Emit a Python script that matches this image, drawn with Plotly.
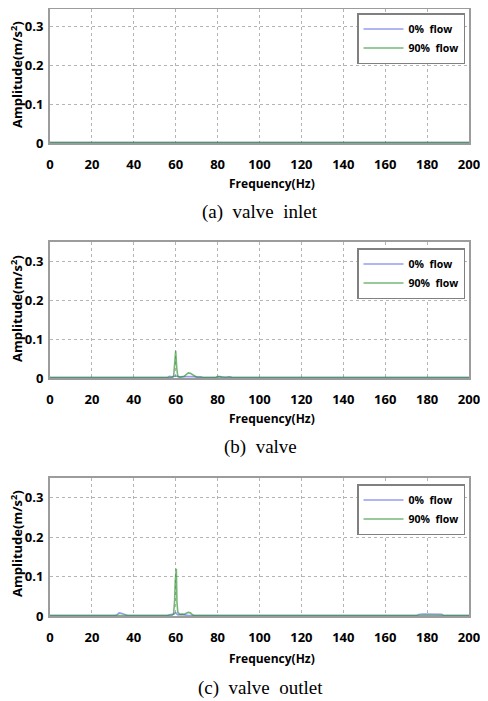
import plotly.graph_objects as go

# ---------------- data ----------------
x_ticks = [0, 20, 40, 60, 80, 100, 120, 140, 160, 180, 200]
y_ticks = [0, 0.1, 0.2, 0.3]
y_tick_labels = ["0", "0.1", "0.2", "0.3"]
series_names = ["0%  flow", "90%  flow"]
captions = ["(a)  valve  inlet", "(b)  valve", "(c)  valve  outlet"]

# (a) valve inlet
freq_a_0 = [0, 58, 59, 60, 61, 62, 200]
amp_a_0 = [0.001, 0.001, 0.001, 0.002, 0.001, 0.001, 0.001]
freq_a_90 = [0, 59, 60, 61, 200]
amp_a_90 = [0.001, 0.001, 0.002, 0.001, 0.001]

# (b) valve
freq_b_0 = [0, 56, 57, 58, 60, 62, 64, 66, 68, 70, 72, 73, 78, 80, 81, 82, 84, 85, 86, 87, 200]
amp_b_0 = [0.001, 0.001, 0.004, 0.003, 0.005, 0.003, 0.004, 0.004, 0.003, 0.004, 0.003, 0.001,
           0.001, 0.002, 0.004, 0.003, 0.002, 0.003, 0.003, 0.001, 0.001]
freq_b_90 = [0, 58, 59, 59.5, 60, 60.5, 61, 62, 64, 65, 66, 67, 68, 69, 70, 79, 80, 81, 82, 200]
amp_b_90 = [0.001, 0.001, 0.004, 0.03, 0.07, 0.025, 0.004, 0.002, 0.004, 0.009, 0.013, 0.012,
            0.008, 0.004, 0.002, 0.001, 0.004, 0.003, 0.001, 0.001]

# (c) valve outlet
freq_c_0 = [0, 31, 32, 33, 34, 35, 36, 37, 56, 57, 59, 60, 61, 63, 65, 66, 175, 176, 178, 180,
            183, 185, 187, 188, 200]
amp_c_0 = [0.001, 0.001, 0.003, 0.008, 0.007, 0.004, 0.003, 0.001, 0.001, 0.003, 0.005, 0.008,
           0.003, 0.004, 0.003, 0.001, 0.001, 0.004, 0.005, 0.005, 0.005, 0.005, 0.004, 0.001,
           0.001]
freq_c_90 = [0, 58, 59, 59.5, 59.8, 60, 60.3, 60.6, 61, 62, 64, 65, 66, 67, 68, 69, 200]
amp_c_90 = [0.001, 0.001, 0.005, 0.04, 0.09, 0.11, 0.12, 0.035, 0.01, 0.004, 0.004, 0.007,
            0.009, 0.008, 0.003, 0.001, 0.001]

panels = [
    (freq_a_0, amp_a_0, freq_a_90, amp_a_90),
    (freq_b_0, amp_b_0, freq_b_90, amp_b_90),
    (freq_c_0, amp_c_0, freq_c_90, amp_c_90),
]

# ---------------- layout geometry (page pixels; page body has 8px margin) ----------------
OFF = 8
W, H = 488 - OFF, 701 - OFF
left_px, right_px = 50, 469
panel_px = [(9, 143), (242, 378), (478, 616)]  # (top, bottom)
y_max = [0.346, 0.35, 0.35]
xlabel_px = [183, 418, 658]
caption_px = [212, 447, 688]
ytitle_px = [75, 309, 544]
legend_top_px = [13, 248, 484]


def px(v):
    return min(max((v - OFF) / W, 0), 1)


def py(v):
    return min(max(1 - (v - OFF) / H, 0), 1)


blue = "rgba(85,95,230,0.62)"
green = "rgba(45,145,45,0.65)"

fig = go.Figure()
legend_names = ["legend", "legend2", "legend3"]

for i, (f0, a0, f90, a90) in enumerate(panels):
    sfx = "" if i == 0 else str(i + 1)
    fig.add_trace(go.Scatter(x=f0, y=a0, mode="lines", name=series_names[0],
                             line=dict(color=blue, width=1.6),
                             xaxis="x" + sfx, yaxis="y" + sfx, legend=legend_names[i]))
    fig.add_trace(go.Scatter(x=f90, y=a90, mode="lines", name=series_names[1],
                             line=dict(color=green, width=1.6),
                             xaxis="x" + sfx, yaxis="y" + sfx, legend=legend_names[i]))

layout = dict(
    width=W, height=H,
    margin=dict(l=0, r=0, t=0, b=0, autoexpand=False),
    paper_bgcolor="white", plot_bgcolor="white",
    showlegend=True,
    font=dict(family="Open Sans", color="black"),
)

tickfont = dict(family="Open Sans", size=13, color="black", weight=700)
annotations = []
for i, (top, bot) in enumerate(panel_px):
    sfx = "" if i == 0 else str(i + 1)
    layout["xaxis" + sfx] = dict(
        domain=[px(left_px), px(right_px)], range=[0, 200], anchor="y" + sfx,
        tickvals=x_ticks, ticktext=[str(v) for v in x_ticks], tickfont=tickfont,
        showgrid=True, gridcolor="#b4b4b4", griddash="dot", gridwidth=1,
        showline=True, linecolor="#9c9c9c", linewidth=2, mirror=True,
        ticks="", ticklabelstandoff=8, zeroline=False, fixedrange=True, automargin=False,
    )
    layout["yaxis" + sfx] = dict(
        domain=[py(bot), py(top)], range=[0, y_max[i]], anchor="x" + sfx,
        tickvals=y_ticks, ticktext=y_tick_labels, tickfont=tickfont,
        showgrid=True, gridcolor="#b4b4b4", griddash="dot", gridwidth=1,
        showline=True, linecolor="#9c9c9c", linewidth=2, mirror=True,
        ticks="", ticklabelstandoff=2, zeroline=False, fixedrange=True, automargin=False,
    )
    layout[legend_names[i]] = dict(
        x=px(357), y=py(legend_top_px[i]), xanchor="left", yanchor="top",
        bgcolor="white", bordercolor="#808080", borderwidth=1.5,
        font=dict(family="Open Sans", size=10.5, color="black", weight=700),
        itemwidth=40, tracegroupgap=0,
    )
    annotations.append(dict(
        text="Frequency(Hz)", x=px(272), y=py(xlabel_px[i]),
        xref="paper", yref="paper", showarrow=False, xanchor="center", yanchor="middle",
        font=dict(family="Open Sans", size=12, color="black", weight=700),
    ))
    annotations.append(dict(
        text="Amplitude(m/s<sup>2</sup>)", x=px(16), y=py(ytitle_px[i]),
        xref="paper", yref="paper", showarrow=False, textangle=-90,
        xanchor="center", yanchor="middle",
        font=dict(family="Open Sans", size=13, color="black", weight=700),
    ))
    annotations.append(dict(
        text=captions[i], x=px(260), y=py(caption_px[i]),
        xref="paper", yref="paper", showarrow=False, xanchor="center", yanchor="middle",
        font=dict(family="Liberation Serif", size=19, color="black"),
    ))

layout["annotations"] = annotations
fig.update_layout(**layout)

fig.write_html("out.html")
